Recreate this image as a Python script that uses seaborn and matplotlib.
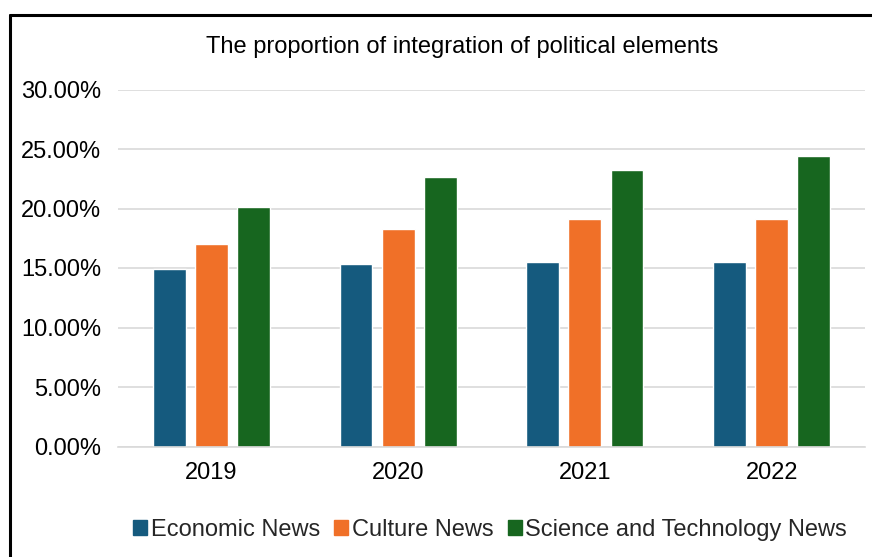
import matplotlib
matplotlib.use("Agg")
import matplotlib.pyplot as plt
import seaborn as sns
import pandas as pd
from matplotlib.lines import Line2D
from matplotlib.patches import Patch
from matplotlib.ticker import FuncFormatter

years = ["2019", "2020", "2021", "2022"]
economic = [14.95, 15.3, 15.5, 15.5]
culture = [17.05, 18.25, 19.15, 19.1]
scitech = [20.1, 22.65, 23.2, 24.4]
series_names = ["Economic News", "Culture News", "Science and Technology News"]
colors = ["#155a7e", "#f07028", "#17661f"]

rows = []
for name, vals in zip(series_names, [economic, culture, scitech]):
    for y, v in zip(years, vals):
        rows.append({"Year": y, "Series": name, "Value": v})
df = pd.DataFrame(rows)

sns.set_theme(style="white")
plt.rcParams["font.family"] = ["Liberation Sans", "DejaVu Sans"]

fig = plt.figure(figsize=(8.72, 5.57), dpi=100)
ax = fig.add_axes([118/872, 1-446.5/557, (865-118)/872, (446.5-89.5)/557])

sns.barplot(data=df, x="Year", y="Value", hue="Series", palette=colors,
            width=0.675, gap=0.22, ax=ax, legend=False, saturation=1)

ax.set_ylim(0, 30)
ax.set_xlim(-0.5, 3.5)
ax.set_yticks([0, 5, 10, 15, 20, 25, 30])
ax.yaxis.set_major_formatter(FuncFormatter(lambda v, p: f"{v:.2f}%"))
ax.grid(axis="y", color="#d9d9d9", linewidth=1.2)
ax.set_axisbelow(True)
for s in ["top", "right", "left"]:
    ax.spines[s].set_visible(False)
ax.spines["bottom"].set_color("#d9d9d9")
ax.spines["bottom"].set_linewidth(1.2)
ax.tick_params(axis="both", length=0, labelsize=17, colors="black")
ax.tick_params(axis="y", pad=12)
ax.tick_params(axis="x", pad=11)
ax.set_xlabel("")
ax.set_ylabel("")

fig.text(0.53, 1-47/557, "The proportion of integration of political elements",
         ha="center", va="center", fontsize=17, color="black")

handles = [Patch(facecolor=c, edgecolor=c) for c in colors]
fig.legend(handles, series_names, loc="center", bbox_to_anchor=(0.562, 1-530/557),
           ncol=3, frameon=False, fontsize=17, handlelength=0.6, handleheight=0.6,
           handletextpad=0.15, columnspacing=0.6)

# outer frame
fig.add_artist(Line2D([10/872, 10/872], [0, 1-15/557], color="black", linewidth=2.2,
                      transform=fig.transFigure))
fig.add_artist(Line2D([10/872, 1], [1-15/557, 1-15/557], color="black", linewidth=2.2,
                      transform=fig.transFigure))

fig.savefig("out.png", dpi=100, facecolor="white")
